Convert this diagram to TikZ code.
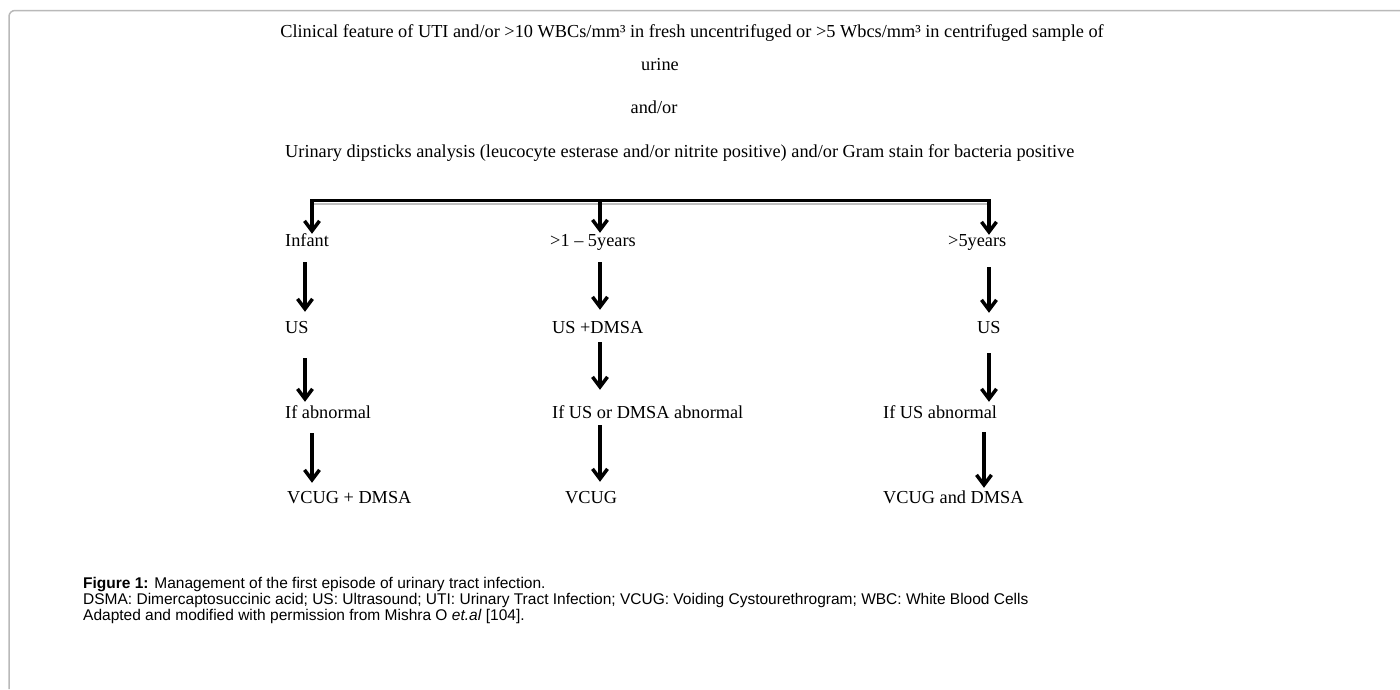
\documentclass[tikz,border=0pt]{standalone}
\usepackage{fontspec}
\setmainfont{Liberation Serif}
\newfontfamily\capfont{Liberation Sans}
\usetikzlibrary{arrows.meta}

\begin{document}
\begin{tikzpicture}[x=1pt, y=-1pt,
    lbl/.style={inner sep=0pt, anchor=base west, text height=11.5pt, text depth=3.5pt, font=\fontsize{18.3}{21}\selectfont},
    capline/.style={inner sep=0pt, anchor=base west, font=\capfont\fontsize{15.5}{17}\selectfont}]
  \useasboundingbox (0,0) rectangle (1400,689);
  % frame
  \draw[gray!55, line width=1.5pt, rounded corners=6pt] (9,689) |- (1400,10.5);

  \begin{scope}[every node/.style={lbl}]
    \node [anchor=base] (clinical) at (692,37) {Clinical feature of UTI and/or >10 WBCs/mm³ in fresh uncentrifuged or >5 Wbcs/mm³ in centrifuged sample\ of};
    \node [anchor=base] (urine) at (660,70) {urine};
    \node [anchor=base] (andor) at (654,113) {and/or};
    \node (dipstick) at (285,157) {Urinary dipsticks analysis (leucocyte esterase and/or nitrite positive) and/or Gram stain for bacteria positive};
    % age groups
    \node (infant) at (285,246.5) {Infant};
    \node (young) at (550,246.5) {>1 – 5years};
    \node (older) at (948,246.5) {>5years};
    \node (usA) at (285,333) {US};
    \node (usB) at (552,333) {US +DMSA};
    \node (usC) at (977,333) {US};
    \node (ifA) at (285,418) {If abnormal};
    \node (ifB) at (552,418) {If US or DMSA abnormal};
    \node (ifC) at (883,418) {If US abnormal};
    \node (vcugA) at (287,503) {VCUG + DMSA};
    \node (vcugB) at (565,503) {VCUG};
    \node (vcugC) at (883,503) {VCUG and DMSA};
  \end{scope}

  \coordinate (barL) at (312,200.5);
  \coordinate (barM) at (600,200.5);
  \coordinate (barR) at (989,200.5);
  \coordinate (xA) at (305,0);
  \coordinate (xA2) at (312,0);
  \coordinate (xB) at (600,0);
  \coordinate (xC) at (989,0);
  \coordinate (xC2) at (984,0);

  \draw[gray!50, line width=2pt] ([xshift=2pt,yshift=-3pt]barL) -- ([xshift=-2pt,yshift=-3pt]barR);

  \begin{scope}[->, >={Straight Barb[length=10pt,width=15pt]}, line width=3.5pt]
    \draw [<->, shorten <=1pt] (infant.north -| barL) -- (barL) -- (barR) -- (older.north -| barR);
    \draw [shorten >=2pt] (barM) -- (young.north -| barM);

    \draw [shorten <=12pt, shorten >=9.5pt] (infant.south -| xA) -- (usA.north -| xA);
    \draw [shorten <=12pt, shorten >=11.5pt] (young.south -| xB) -- (usB.north -| xB);
    \draw [shorten <=17pt, shorten >=8.5pt] (older.south -| xC) -- (usC.north -| xC);

    \draw [shorten <=21.5pt, shorten >=4.5pt] (usA.south -| xA) -- (ifA.north -| xA);
    \draw [shorten <=5.5pt, shorten >=16.5pt] (usB.south -| xB) -- (ifB.north -| xB);
    \draw [shorten <=16.5pt, shorten >=4.5pt] (usC.south -| xC) -- (ifC.north -| xC);

    \draw [shorten <=11.5pt, shorten >=8.5pt] (ifA.south -| xA2) -- (vcugA.north -| xA2);
    \draw [shorten <=3.5pt, shorten >=9.5pt] (ifB.south -| xB) -- (vcugB.north -| xB);
    \draw [shorten <=10.5pt, shorten >=3.5pt] (ifC.south -| xC2) -- (vcugC.north -| xC2);
  \end{scope}

  % caption
  \node [capline] (figcap) at (83,588) {\textbf{Figure 1:} Management of the first episode of urinary tract infection.};
  \node [capline] (abbrev) at (83,604) {DSMA: Dimercaptosuccinic acid; US: Ultrasound; UTI: Urinary Tract Infection; VCUG: Voiding Cystourethrogram; WBC: White Blood Cells};
  \node [capline] (adapted) at (83,620) {Adapted and modified with permission from Mishra O \textit{et.al} [104].};
\end{tikzpicture}
\end{document}
